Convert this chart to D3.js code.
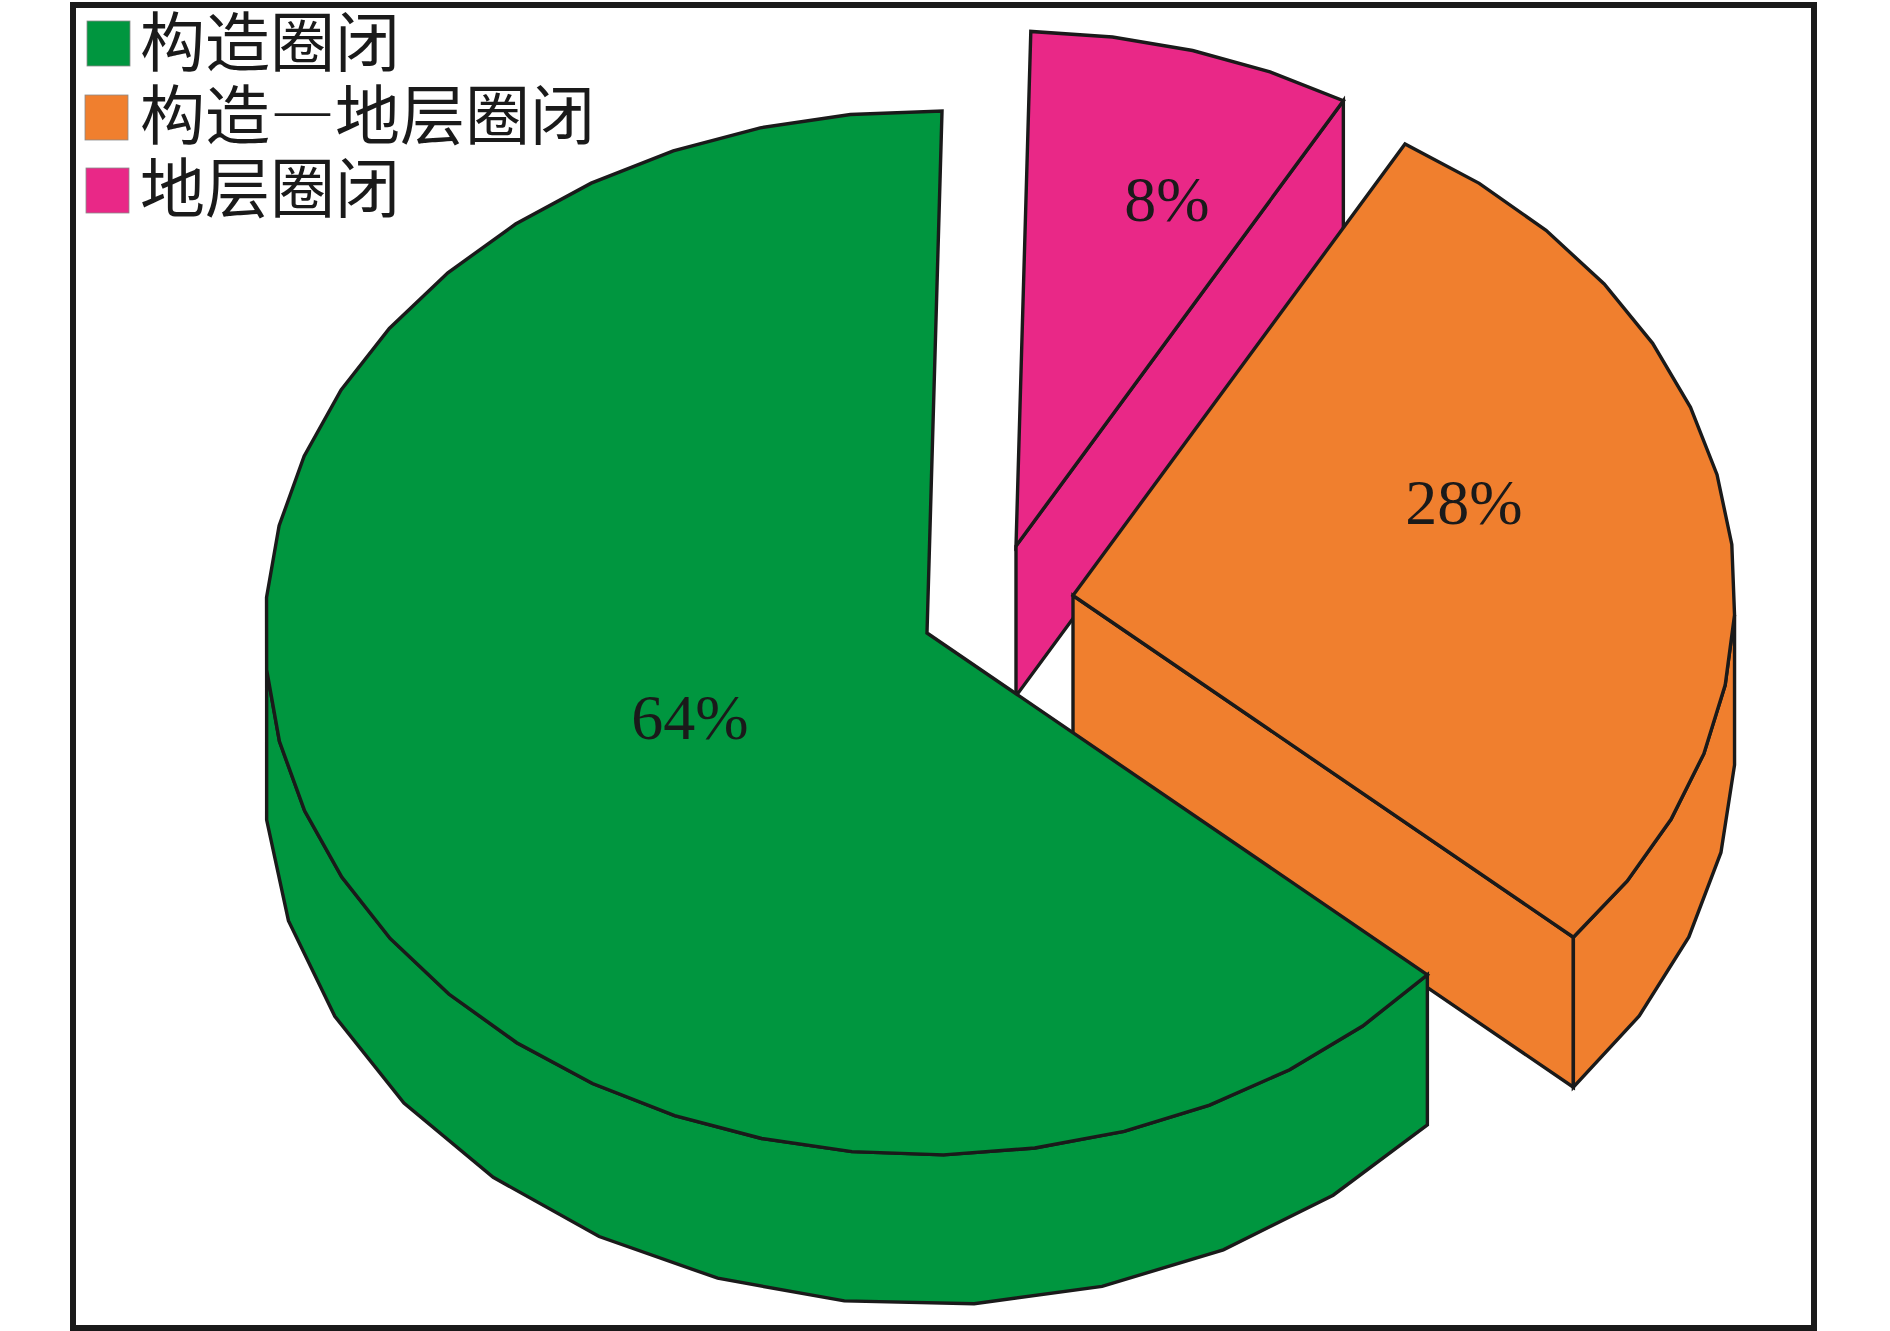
<!DOCTYPE html>
<html>
<head>
<meta charset="utf-8">
<script src="https://cdn.jsdelivr.net/npm/d3@7"></script>
<style>
html,body{margin:0;padding:0;background:#fff}
svg{display:block}
</style>
</head>
<body>
<svg id="chart" width="1890" height="1331"></svg>
<script>
// ---- data ----
const categories = ["构造圈闭", "构造—地层圈闭", "地层圈闭"];
const shares = [64, 28, 8];
const percentLabels = ["64%", "28%", "8%"];
const colors = ["#00963f", "#f07f2e", "#e92887"];

// ---- layout ----
const W = 1890, H = 1331;
const rx = 662, ry = 522, depth = 150;
const sliceCentres = [[927, 633], [1073, 595.5], [1016, 546]];
const sliceScales = [1, 1, 0.986];
const labelCentres = [[690, 717], [1464, 502], [1167, 199]];
const labelBaselineGap = 22;
const swatches = [[87, 21], [85, 95], [86, 168]];
const legendBaselines = [66, 139, 212];
const ink = "#1a1a1a";
const topStep = 8, wallStep = 11;

const svg = d3.select("#chart");
svg.append("rect").attr("width", W).attr("height", H).attr("fill", "#fff");

const deg = d3.scaleLinear().domain([0, 180]).range([0, Math.PI]);
const pie = d3.pie().sortValues(d3.ascending)
  .startAngle(deg(1.3)).endAngle(deg(361.3));
const arcs = pie(shares);

const xUnit = d3.scaleLinear().domain([-1, 1]).range([-rx, rx]);
const yUnit = d3.scaleLinear().domain([-1, 1]).range([-ry, ry]);
const line = d3.line();

function facets(a, b, stepDeg) {
  const n = Math.max(1, Math.round((b - a) / deg(stepDeg)));
  return d3.range(n + 1).map(i => a + (b - a) * i / n);
}

const g = svg.append("g");
function draw(points, fill) {
  g.append("path").attr("d", line(points) + "Z")
    .attr("fill", fill).attr("stroke", ink).attr("stroke-width", 3.4)
    .attr("stroke-linejoin", "miter");
}

// back to front: smallest slice first
d3.range(arcs.length).sort((i, j) => arcs[i].startAngle - arcs[j].startAngle).forEach(i => {
  const a = arcs[i], c = sliceCentres[i], fill = colors[i], s = sliceScales[i];
  const pt = (t, dz = 0) => [c[0] + s * xUnit(Math.sin(t)), c[1] + s * yUnit(-Math.cos(t)) + dz];
  const rim = facets(a.startAngle, a.endAngle, topStep);

  // radial face on the closing edge
  if (Math.sin(a.endAngle) > 0.1) {
    const p = pt(a.endAngle);
    draw([c, p, [p[0], p[1] + depth], [c[0], c[1] + depth]], fill);
  }
  // outer wall, front half only, sharing the rim's vertices
  const front = rim.filter(t => t >= deg(90) && t <= deg(270));
  if (front.length > 1) {
    const upper = front.map(t => pt(t));
    const lower = facets(front[0], front[front.length - 1], wallStep).map(t => pt(t, depth)).reverse();
    draw(upper.concat(lower), fill);
  }
  // top face
  draw([c].concat(rim.map(t => pt(t))), fill);
});

// percent labels
svg.append("g").selectAll("text").data(percentLabels).join("text")
  .attr("x", (d, i) => labelCentres[i][0])
  .attr("y", (d, i) => labelCentres[i][1] + labelBaselineGap)
  .attr("text-anchor", "middle")
  .attr("font-family", "'Liberation Serif', serif")
  .attr("font-size", 64)
  .attr("fill", ink)
  .text(d => d);

// legend
const lg = svg.append("g");
lg.selectAll("rect").data(categories).join("rect")
  .attr("x", (d, i) => swatches[i][0]).attr("y", (d, i) => swatches[i][1])
  .attr("width", 43).attr("height", 45)
  .attr("fill", (d, i) => colors[i])
  .attr("stroke", "#8a8a8a").attr("stroke-width", 0.8);
lg.selectAll("text").data(categories).join("text")
  .attr("x", 140).attr("y", (d, i) => legendBaselines[i])
  .attr("lang", "zh-CN")
  .attr("font-family", "'Noto Sans CJK SC', sans-serif")
  .attr("font-size", 65)
  .style("font-feature-settings", "'fwid' 1")
  .attr("fill", ink)
  .text(d => d);

// frame
svg.append("rect").attr("x", 73).attr("y", 5).attr("width", 1741).attr("height", 1323)
  .attr("fill", "none").attr("stroke", ink).attr("stroke-width", 6);
</script>
</body>
</html>
